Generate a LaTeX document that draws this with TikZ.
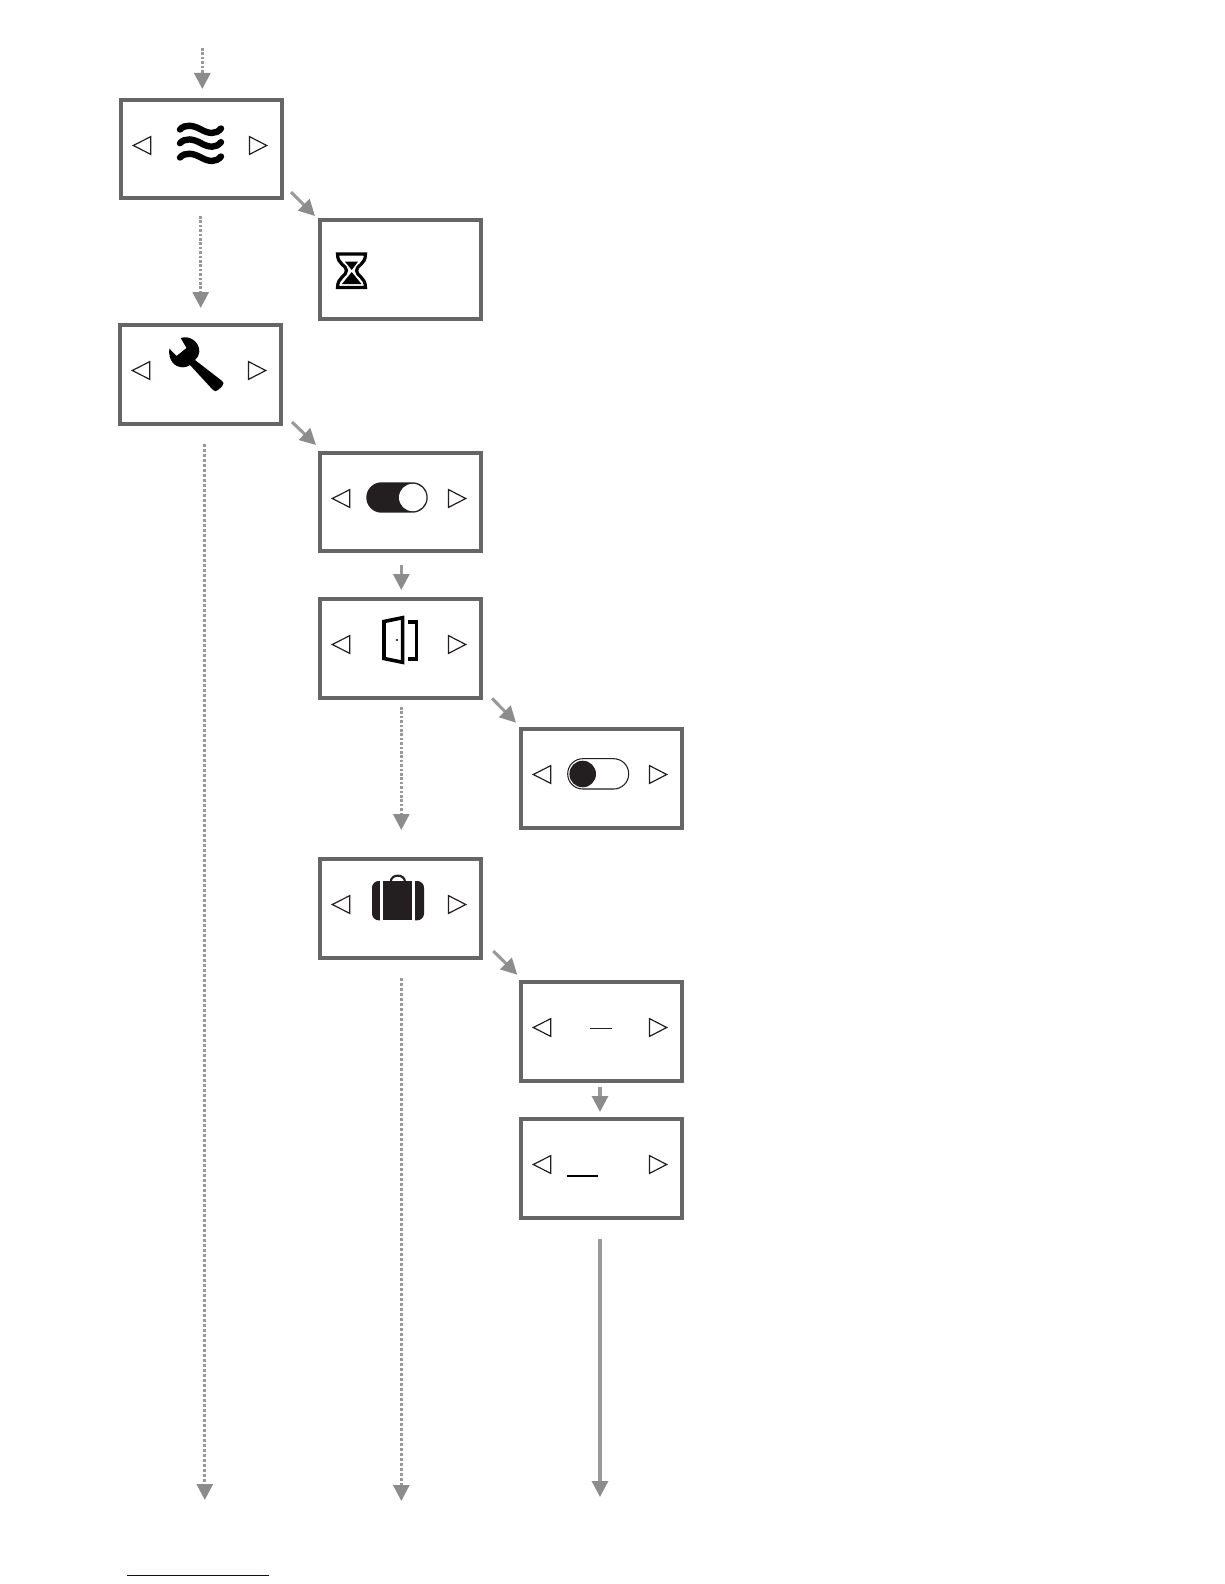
\documentclass[tikz,border=0pt]{standalone}
\usetikzlibrary{arrows.meta}
\definecolor{boxgray}{HTML}{666666}
\definecolor{linegray}{HTML}{999999}
\definecolor{headgray}{HTML}{8C8C8C}
\definecolor{ink}{HTML}{231F20}
\definecolor{rulenavy}{HTML}{000088}
\tikzset{
  screen/.style={draw=boxgray,line width=3pt,minimum width=120.75pt,minimum height=74.25pt,inner sep=0pt,outer sep=0pt,fill=white},
  short screen/.style={screen,minimum height=73.5pt},
  flow/.style={draw=linegray,line width=2.3pt,-{Triangle[length=12pt,width=12pt,fill=headgray,color=headgray]}},
  dotflow/.style={flow,line width=2.2pt,dash pattern=on 2.2pt off 1.55pt},
  dotshort/.style={flow,line width=2.2pt,dash pattern=on 1.9pt off 1.4pt},
  tri/.style={draw=ink,line width=0.9pt,fill=white,line join=miter},
}
\newcommand{\sidearrows}[1]{%
  \begin{scope}[shift={(#1.north west)}]
    \draw[tri] (12.3,45.5) -- (29.8,36.6) -- (29.8,54.4) -- cycle;
    \draw[tri] (145.7,45.5) -- (128.5,36.6) -- (128.5,54.4) -- cycle;
  \end{scope}}
\begin{document}
\begin{tikzpicture}[x=0.75pt,y=-0.75pt]
\useasboundingbox (0,0) rectangle (1224,1584);
% boxes
\node[short screen] (waves)  at (201.5,149) {};
\node[screen] (hour)   at (400.5,269.5) {};
\node[screen] (wrench) at (200.5,374.5) {};
\node[short screen] (on)     at (400.5,502) {};
\node[screen] (door)   at (400.5,648.5) {};
\node[screen] (off)    at (601.5,778.5) {};
\node[screen] (bag)    at (400.5,908.5) {};
\node[screen] (dash)   at (601.5,1031.5) {};
\node[screen] (under)  at (601.5,1168.5) {};
\sidearrows{waves}\sidearrows{wrench}\sidearrows{on}\sidearrows{door}
\sidearrows{off}\sidearrows{bag}\sidearrows{dash}\sidearrows{under}
% connector ends
\coordinate (in0) at (202.3,48);   \coordinate (in1) at (202.3,89);
\coordinate (d1a) at (200.7,216);  \coordinate (d1b) at (200.7,308);
\coordinate (d2a) at (291,192);    \coordinate (d2b) at (315,216);
\coordinate (d3a) at (292,422);    \coordinate (d3b) at (316,445);
\coordinate (d4a) at (204.8,444);  \coordinate (d4b) at (204.8,1500);
\coordinate (d5a) at (401.3,565);  \coordinate (d5b) at (401.3,590);
\coordinate (d6a) at (401.3,707);  \coordinate (d6b) at (401.3,830);
\coordinate (d7a) at (492,698.3);  \coordinate (d7b) at (516,722.7);
\coordinate (d8a) at (493.3,951);  \coordinate (d8b) at (517.3,974.7);
\coordinate (d9a) at (401.3,978);  \coordinate (d9b) at (401.3,1501);
\coordinate (d10a) at (600,1087);  \coordinate (d10b) at (600,1112);
\coordinate (d11a) at (600,1239);  \coordinate (d11b) at (600,1497);
\draw[dotshort] (in0) -- (in1);
\draw[dotshort] (d1a) -- (d1b);
\draw[flow] (d2a) -- (d2b);
\draw[flow] (d3a) -- (d3b);
\draw[dotflow] (d4a) -- (d4b);
\draw[flow] (d5a) -- (d5b);
\draw[dotshort] (d6a) -- (d6b);
\draw[flow] (d7a) -- (d7b);
\draw[flow] (d8a) -- (d8b);
\draw[dotflow] (d9a) -- (d9b);
\draw[flow] (d10a) -- (d10b);
\draw[flow] (d11a) -- (d11b);
% waves icon
\foreach \yy in {0,13.7,28}{
  \draw[black,line width=4.8pt,line cap=round,yshift=-0.75*\yy pt]
    (180,129.5) .. controls (185,124) and (193,125) .. (201,129.5) .. controls (209,134) and (216,134.5) .. (221,128.5);
}
% hourglass
\draw[black,line width=2.4pt,fill=white,line join=miter]
  (337.5,254) -- (365.5,254) .. controls (365.5,265) and (356.5,265) .. (356.5,270.5)
  .. controls (356.5,276) and (365.5,277) .. (365.5,287.5) -- (337.5,287.5)
  .. controls (337.5,277) and (346.5,276) .. (346.5,270.5)
  .. controls (346.5,265) and (337.5,265) .. (337.5,254) -- cycle;
\fill[black] (345,261.7) -- (358,261.7) -- (351.7,270) -- cycle;
\fill[black] (342,284) -- (361.5,284) -- (351.7,272) -- cycle;
% wrench
\fill[black,line join=round] (180.7,338)
  .. controls (190,335) and (199.5,342) .. (199.3,351.7)
  .. controls (199.3,355) and (197.5,358) .. (195,360)
  -- (221.5,380.5) .. controls (224,382.5) and (224,384.5) .. (222,386.5)
  -- (218,390) .. controls (216.5,391.5) and (214.5,391.5) .. (213,390)
  -- (190,365) .. controls (188,366.5) and (185.5,367.3) .. (183,367.3)
  .. controls (175,367.3) and (168,361) .. (169.3,348.5)
  -- (176.5,356) -- (186.5,348) -- cycle;
% toggle on
\fill[ink,rounded corners=11.4pt] (366.3,482.3) rectangle (427.7,512.7);
\fill[white] (412.7,497.5) circle[radius=13.7];
% door
\draw[black,line width=2.7pt,line join=miter] (384,621.5) -- (402.6,617.7) -- (402.6,662.3) -- (384,658.5) -- cycle;
\fill[black] (397,640) circle[radius=1.2];
\draw[black,line width=2.7pt,line join=miter] (408.3,621.7) -- (416.5,621.7) -- (416.5,659) -- (408.3,659);
% toggle off
\draw[ink,line width=0.8pt,fill=white,rounded corners=11.3pt] (567.7,758.7) rectangle (628.7,789);
\fill[ink] (582.7,774) circle[radius=13.3];
% suitcase
\draw[ink,line width=1.6pt] (390.7,882) .. controls (390.7,873.5) and (405,873.5) .. (405,882);
\fill[ink] (383,881) rectangle (412.3,920.3);
\fill[ink,rounded corners=5pt] (372,881) rectangle (388,920.3);
\fill[ink,rounded corners=5pt] (408,881) rectangle (424,920.3);
\fill[white] (380.3,880) rectangle (383,921);
\fill[white] (412.3,880) rectangle (415,921);
% dashes
\draw[ink,line width=0.8pt] (590,1028.3) -- (612,1028.3);
\draw[black,line width=1.5pt] (567,1175.7) -- (598,1175.7);
% footnote rule
\draw[rulenavy,line width=0.75pt] (127,1575.3) -- (269,1575.3);
\end{tikzpicture}
\end{document}
